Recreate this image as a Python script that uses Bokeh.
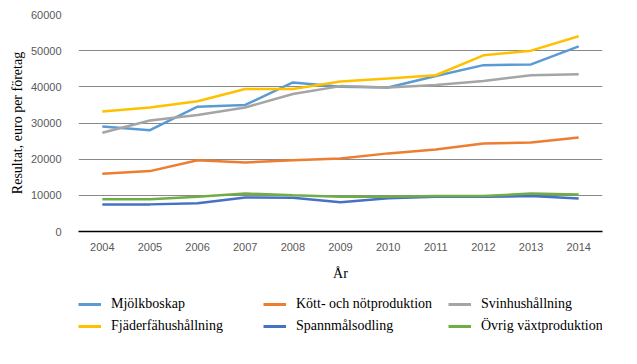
from bokeh.plotting import figure
from bokeh.models import FixedTicker, Legend, LegendItem, Range1d
from bokeh.layouts import column
from bokeh.embed import file_html
from bokeh.resources import INLINE

years = [2004, 2005, 2006, 2007, 2008, 2009, 2010, 2011, 2012, 2013, 2014]
mjolk = [29000, 28000, 34500, 35000, 41200, 40000, 39800, 43000, 46000, 46200, 51200]
kott = [16000, 16700, 19700, 19100, 19700, 20200, 21600, 22700, 24300, 24600, 26000]
svin = [27300, 30700, 32200, 34300, 38000, 40200, 39800, 40500, 41600, 43200, 43500]
fjader = [33200, 34300, 36000, 39400, 39400, 41500, 42300, 43200, 48700, 50000, 54000]
spann = [7500, 7500, 7800, 9400, 9300, 8100, 9200, 9600, 9600, 9800, 9100]
ovrig = [8900, 8900, 9600, 10500, 10000, 9600, 9600, 9800, 9800, 10500, 10200]
y_ticks = [0, 10000, 20000, 30000, 40000, 50000, 60000]

series = [
    ("Mjölkboskap", mjolk, "#5B9BD5"),
    ("Kött- och nötproduktion", kott, "#ED7D31"),
    ("Svinhushållning", svin, "#A5A5A5"),
    ("Fjäderfähushållning", fjader, "#FFC000"),
    ("Spannmålsodling", spann, "#4472C4"),
    ("Övrig växtproduktion", ovrig, "#70AD47"),
]

p = figure(width=637, height=286, output_backend="svg", toolbar_location=None,
           x_range=Range1d(2003.5, 2014.5), y_range=Range1d(0, 60000),
           min_border_left=78, min_border_top=14, min_border_right=35, min_border_bottom=55)
p.outline_line_color = None
p.background_fill_color = "white"

for name, vals, col in series:
    p.line(years, vals, line_color=col, line_width=2.5)

p.xaxis.ticker = FixedTicker(ticks=years)
p.yaxis.ticker = FixedTicker(ticks=y_ticks)
p.xgrid.visible = False
p.ygrid.grid_line_color = "#898989"
p.ygrid.grid_line_width = 1

for ax in (p.xaxis, p.yaxis):
    ax.major_tick_line_color = None
    ax.minor_tick_line_color = None
    ax.major_label_text_font = "Liberation Sans"
    ax.major_label_text_font_size = "11px"
    ax.major_label_text_color = "#595959"
    ax.axis_label_text_font = "Liberation Serif"
    ax.axis_label_text_font_size = "14px"
    ax.axis_label_text_font_style = "normal"
    ax.axis_label_text_color = "#000000"

p.yaxis.axis_line_color = None
p.yaxis.major_label_standoff = 11
p.yaxis.axis_label = "Resultat, euro per företag"
p.yaxis.axis_label_standoff = 3
p.yaxis.formatter.use_scientific = False

p.xaxis.axis_line_color = "#000000"
p.xaxis.axis_line_width = 1.5
p.xaxis.major_label_standoff = 5
p.xaxis.axis_label = "År"
p.xaxis.axis_label_standoff = 12

# legend strip below the chart (its lines lie outside its own frame, only the legend shows)
lg = figure(width=637, height=74, output_backend="svg", toolbar_location=None,
            x_range=Range1d(2003.5, 2014.5), y_range=Range1d(1e6, 2e6),
            x_axis_type=None, y_axis_type=None,
            min_border_left=78, min_border_right=35, min_border_top=0, min_border_bottom=0)
lg.outline_line_color = None
lg.xgrid.visible = False
lg.ygrid.visible = False
items = []
for name, vals, col in series:
    r = lg.line(years, vals, line_color=col, line_width=3)
    items.append(LegendItem(label=name, renderers=[r]))

legend = Legend(items=items, location=(0, 26), orientation="horizontal", ncols=3,
                glyph_width=23, glyph_height=16, label_height=16, label_width=146,
                label_standoff=10, spacing=6, padding=0, margin=0,
                border_line_alpha=0, background_fill_alpha=0,
                label_text_font="Liberation Serif", label_text_font_size="14px",
                label_text_color="#000000")
lg.add_layout(legend, "center")

layout = column(p, lg, spacing=0)
open("out.html", "w").write(file_html(layout, INLINE))
